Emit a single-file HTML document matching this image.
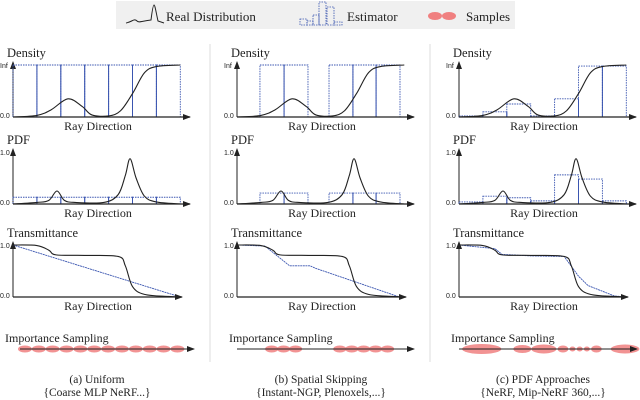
<!DOCTYPE html>
<html><head><meta charset="utf-8"><style>
html,body{margin:0;padding:0;background:#fff;}
svg{display:block;}
text{font-family:"Liberation Serif","Times New Roman",serif;}
.tk{font-family:"Liberation Sans",sans-serif;font-size:7px;fill:#222;}
.lb{font-family:"Liberation Serif",serif;font-size:13px;fill:#222;}
</style></head><body>
<svg id="fig" width="640" height="400" viewBox="0 0 640 400">
<defs><marker id="ar" markerWidth="8" markerHeight="6" refX="7" refY="3" orient="auto" markerUnits="userSpaceOnUse"><path d="M0,0 L8,3 L0,6 z" fill="#222"/></marker></defs>
<g>
<rect x="116" y="1" width="399" height="28" fill="#f0f0f0"/>
<path d="M126,23 C132,22 134,18 137,21 C139,23 142,21 151,20 C152,12 153,5 154,5 C155,5 156,12 158,21 L164,23" fill="none" stroke="#222" stroke-width="1"/>
<text x="166" y="21" class="lb">Real Distribution</text>
<g fill="none" stroke="#3a55b0" stroke-width="0.8" stroke-dasharray="1.5,1">
<rect x="300" y="19" width="7" height="6"/><rect x="307" y="21" width="6" height="4"/><rect x="313" y="15" width="6" height="10"/><rect x="319" y="2" width="7" height="23"/><rect x="327" y="7" width="7" height="18"/><rect x="334" y="22" width="8" height="3"/></g>
<text x="347" y="21" class="lb">Estimator</text>
<ellipse cx="435" cy="16" rx="7" ry="4" fill="#f08080"/>
<ellipse cx="449" cy="16" rx="7" ry="4" fill="#f08080"/>
<text x="466" y="21" class="lb">Samples</text>
</g>
<line x1="210" y1="44" x2="210" y2="362" stroke="#ddd"/>
<line x1="430" y1="44" x2="430" y2="362" stroke="#ddd"/>
<g id="plots"></g>
</svg>
<script>
// shared real distribution (x in bin units 0..7)
const densX=[0,1,1.6,2.3,2.9,3.3,4,4.5,5,5.5,6,7];
const densY=[0,0.03,0.14,0.35,0.2,0.04,0.02,0.12,0.45,0.85,0.97,1];
const pdfX=[0,1,1.5,1.84,2.15,2.6,3.8,4.4,4.7,4.9,5.15,5.5,6,7];
const pdfY=[0,0.03,0.07,0.25,0.07,0.03,0.03,0.18,0.55,0.87,0.5,0.15,0.04,0];
const trX=[0,1,1.5,1.8,3,4.4,4.7,5,5.5,6.5,7];
const trY=[1,0.99,0.9,0.81,0.8,0.78,0.6,0.2,0.05,0.01,0];
// panel estimators
const binEdgesA=[0,1,2,3,4,5,6,7];
const densBinsA=[1,1,1,1,1,1,1];
const pdfBinsA=[0.13,0.13,0.13,0.13,0.13,0.13,0.13];
const trEstXA=[0,7];const trEstYA=[1,0];
const sampXA=[0.5,1.08,1.66,2.24,2.82,3.4,3.98,4.56,5.14,5.72,6.3,6.88];
const sampWA=[0.58,0.58,0.58,0.58,0.58,0.58,0.58,0.58,0.58,0.58,0.58,0.58];
const binEdgesB=[0.96,1.97,2.97,3.85,4.85,5.82,6.82];
const densBinsB=[1,1,null,1,1,1];
const pdfBinsB=[0.21,0.21,null,0.21,0.21,0.21];
const trEstXB=[0,1.17,2.2,3.05,3.3,6.8];const trEstYB=[1,0.98,0.6,0.6,0.55,0];
const sampXB=[1.45,1.95,2.45,4.3,4.8,5.3,5.8,6.3];
const sampWB=[0.55,0.55,0.55,0.55,0.55,0.55,0.55,0.55];
const binEdgesC=[0,1,2,3,4,5,6,7];
const densBinsC=[0.02,0.1,0.25,0.02,0.35,0.98,0.98];
const pdfBinsC=[0.04,0.15,0.12,0.06,0.56,0.48,0.06];
const trEstXC=[0,1.5,1.8,3,4.4,5,5.4,6.5,7];const trEstYC=[1,0.93,0.82,0.79,0.78,0.4,0.22,0.02,0];
const sampXC=[0.95,2.65,3.55,4.35,4.75,5.05,5.35,5.75,6.95];
const sampWC=[1.65,0.75,1.05,0.45,0.25,0.25,0.25,0.45,1.2];
const sampHC=[10,8,9,7,5,5,5,7,9];

const NS='http://www.w3.org/2000/svg';
const root=document.getElementById('plots');
function mk(tag,at,par){const e=document.createElementNS(NS,tag);for(const k in at)e.setAttribute(k,at[k]);(par||root).appendChild(e);return e;}
function smooth(pts){let d='M'+pts[0][0]+','+pts[0][1];for(let i=0;i<pts.length-1;i++){const p0=pts[Math.max(0,i-1)],p1=pts[i],p2=pts[i+1],p3=pts[Math.min(pts.length-1,i+2)];const c1=[p1[0]+(p2[0]-p0[0])/6,p1[1]+(p2[1]-p0[1])/6],c2=[p2[0]-(p3[0]-p1[0])/6,p2[1]-(p3[1]-p1[1])/6];d+=' C'+c1[0]+','+c1[1]+' '+c2[0]+','+c2[1]+' '+p2[0]+','+p2[1];}return d;}
const BW=23.9;
function txt(x,y,s,cls,name,anchor){const t=mk('text',{x:x,y:y,class:cls});if(anchor)t.setAttribute('text-anchor',anchor);t.textContent=s;

return t;}
function subplot(g,x0,base,top,title,topTick,bins,edges,realX,realY,estX,estY,key,arrowEnd){
 const sx=v=>x0+v*BW, sy=v=>base-v*(base-top);
 txt(x0-6,top-8,title,'lb',key+'-title').style.fontSize='12.5px';
 txt(x0-13,top+3,topTick,'tk',key+'-top-tick');
 txt(x0-13,base+1,'0.0','tk',key+'-zero-tick');
 const ax=mk('path',{d:'M'+x0+','+base+' L'+x0+','+(top-3),stroke:'#222','stroke-width':1,fill:'none','marker-end':'url(#ar)'},g);
 
 
 if(bins){for(let i=0;i<bins.length;i++){if(bins[i]===null)continue;const r=mk('rect',{x:sx(edges[i]),y:sy(bins[i]),width:sx(edges[i+1])-sx(edges[i]),height:base-sy(bins[i]),fill:'none',stroke:'#3a55b0','stroke-width':0.9,'stroke-dasharray':'1.5,1'},g);
 
 
 if(i>0&&bins[i-1]!==null){const l=mk('line',{x1:sx(edges[i]),x2:sx(edges[i]),y1:base,y2:sy(Math.min(bins[i],bins[i-1])),stroke:'#3a55b0','stroke-width':1},g);
 
 }}}
 if(estX){const p=mk('polyline',{points:estX.map((v,i)=>sx(v)+','+sy(estY[i])).join(' '),fill:'none',stroke:'#3a55b0','stroke-width':0.9,'stroke-dasharray':'2,0.6'},g);
 
 }
 const c=mk('path',{d:smooth(realX.map((v,i)=>[sx(v),sy(realY[i])])),fill:'none',stroke:'#222','stroke-width':1.1},g);
 
 
 const xa=mk('path',{d:'M'+x0+','+base+' L'+arrowEnd+','+base,stroke:'#222','stroke-width':1.2,fill:'none','marker-end':'url(#ar)'},g);
 
 
 txt(x0+85,base+13,'Ray Direction','lb',key+'-x-title','middle').style.fontSize='12px';
}
const panels=[
 {k:'a',x0:13,edges:binEdgesA,db:densBinsA,pb:pdfBinsA,tx:trEstXA,ty:trEstYA,sxs:sampXA,sws:sampWA,sh:null,line:false,c1:'(a) Uniform',c2:'{Coarse MLP NeRF...}'},
 {k:'b',x0:237,edges:binEdgesB,db:densBinsB,pb:pdfBinsB,tx:trEstXB,ty:trEstYB,sxs:sampXB,sws:sampWB,sh:null,line:true,c1:'(b) Spatial Skipping',c2:'{Instant-NGP, Plenoxels,...}'},
 {k:'c',x0:459,edges:binEdgesC,db:densBinsC,pb:pdfBinsC,tx:trEstXC,ty:trEstYC,sxs:sampXC,sws:sampWC,sh:sampHC,line:true,c1:'(c) PDF Approaches',c2:'{NeRF, Mip-NeRF 360,...}'}];
panels.forEach(P=>{
 const g=mk('g',{});
 
 
 const end=P.x0+177;
 subplot(g,P.x0,117,65,'Density','Inf',P.db,P.edges,densX,densY,null,null,P.k+'-density',end);
 subplot(g,P.x0,204,152,'PDF','1.0',P.pb,P.edges,pdfX,pdfY,null,null,P.k+'-pdf',end);
 subplot(g,P.x0,297,245,'Transmittance','1.0',null,null,trX,trY,P.tx,P.ty,P.k+'-trans',end-8);
 txt(P.x0-8,342,'Importance Sampling','lb',P.k+'-sampling-title').style.fontSize='12px';
 P.sxs.forEach((v,i)=>{const e=mk('ellipse',{cx:P.x0+v*BW,cy:349,rx:P.sws[i]*BW/2,ry:(P.sh?P.sh[i]:7)/2,fill:'#f08080','fill-opacity':0.85},g);
 
 });
 const sEnd=P.k==='c'?637:(P.k==='a'?end+4:end);
 const sl=mk('path',{d:'M'+(P.line?P.x0:P.x0+7)+',349 L'+sEnd+',349',stroke:'#222','stroke-width':1,fill:'none','marker-end':'url(#ar)'},g);
 
 
 txt(P.x0+84,383,P.c1,'lb',P.k+'-caption','middle').style.fontSize='11.5px';
 txt(P.x0+84,396,P.c2,'lb',P.k+'-subcaption','middle').style.fontSize='11.5px';
});
</script>
</body></html>
